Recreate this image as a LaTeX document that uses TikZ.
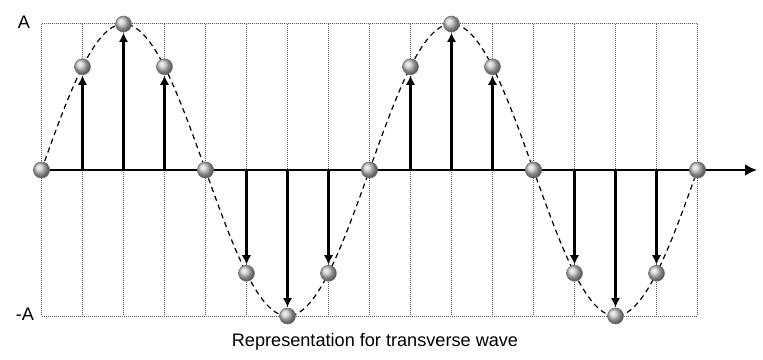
\documentclass[tikz,border=0pt]{standalone}
\usepackage{fontspec}
\setmainfont{Liberation Sans}
\usetikzlibrary{arrows.meta}
\tikzset{
  gridline/.style={line width=0.75pt, black!65, dash pattern=on 0.75pt off 0.75pt},
  wave/.style={line width=0.9pt, dash pattern=on 4pt off 3pt},
  axisline/.style={line width=1.9pt, -{Latex[length=9pt,width=9pt]}},
  disp/.style={line width=1.9pt, -{Latex[length=7pt,width=7pt]}, shorten >=0.3pt},
  ball/.style={circle, minimum size=12pt, inner sep=0pt, shading=ball, ball color=black!22, draw=black!55, line width=0.4pt},
  lbl/.style={font=\fontsize{13.6}{16}\selectfont, inner sep=0pt}
}
\begin{document}
\begin{tikzpicture}[x=0.75pt, y=-0.75pt]
\useasboundingbox (0,0) rectangle (763,360);
% grid
\draw[gridline] (41.5,24) -- (697.5,24);
\draw[gridline] (41.5,316) -- (697.5,316);
\foreach \i in {0,...,16} {
  \draw[gridline] ({41.5+41*\i},24) -- ({41.5+41*\i},316);
}
% wave
\draw[wave] plot[domain=0:16, samples=161, smooth] ({41.5+41*\x},{170-146*sin(45*\x)});
% balls
\foreach \i in {0,...,16} {
  \node[ball] (p\i) at ({41.5+41*\i},{170-146*sin(45*\i)}) {};
  \coordinate (a\i) at ({41.5+41*\i},170);
}
% axis
\coordinate (axend) at (757,170);
\draw[axisline] (p0) -- (axend);
% displacement arrows
\foreach \i in {1,2,3,9,10,11} { \draw[disp] (a\i) -- (p\i.south); }
\foreach \i in {5,6,7,13,14,15} { \draw[disp] (a\i) -- (p\i.north); }
% redraw balls on axis over axis
\foreach \i in {0,4,8,12,16} {
  \node[ball] at ({41.5+41*\i},170) {};
}
% labels
\node[lbl] (lA) at (24,22) {A};
\node[lbl] (lmA) at (25,314) {-A};
\node[lbl] (cap) at (375,342) {Representation for transverse wave};
\end{tikzpicture}
\end{document}
